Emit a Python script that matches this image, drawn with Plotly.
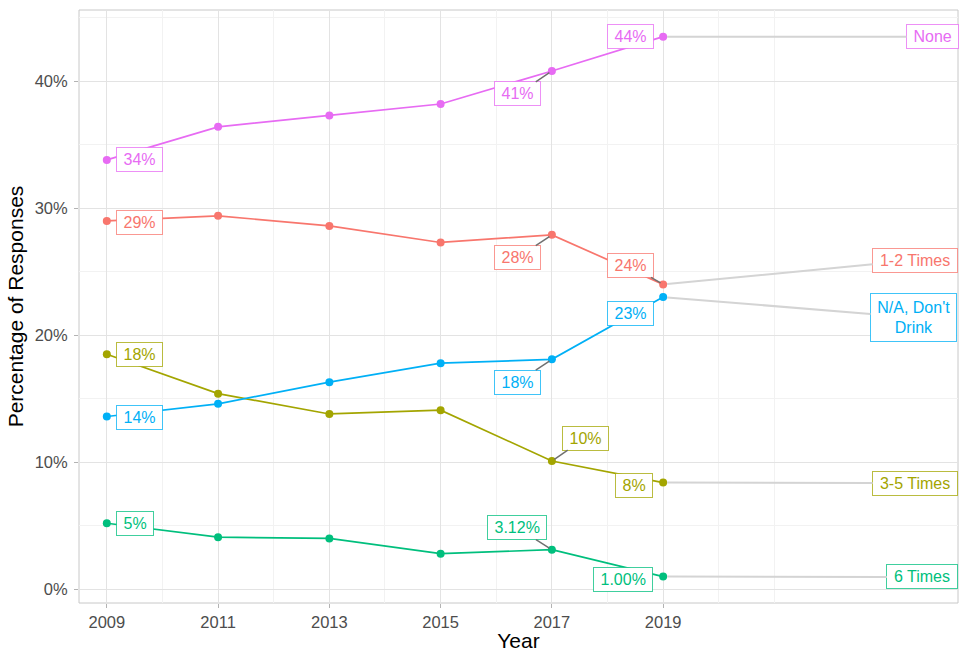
import plotly.graph_objects as go

years = [2009, 2011, 2013, 2015, 2017, 2019]
series_names = ["None", "1-2 Times", "3-5 Times", "N/A, Don't Drink", "6 Times"]
none_vals = [33.8, 36.4, 37.3, 38.2, 40.8, 43.5]
one_two_vals = [29.0, 29.4, 28.6, 27.3, 27.9, 24.0]
three_five_vals = [18.5, 15.4, 13.8, 14.1, 10.1, 8.4]
na_vals = [13.6, 14.6, 16.3, 17.8, 18.1, 23.0]
six_vals = [5.2, 4.1, 4.0, 2.8, 3.12, 1.0]
series_values = [none_vals, one_two_vals, three_five_vals, na_vals, six_vals]
colors = ["#E76BF3", "#F8766D", "#A3A500", "#00B0F6", "#00BF7D"]
border_colors = ["rgba(231,107,243,0.75)", "rgba(248,118,109,0.75)", "rgba(163,165,0,0.75)",
                 "rgba(0,176,246,0.75)", "rgba(0,191,125,0.75)"]

# value labels: (series index, year, text, label x, label y, draw connector)
value_labels = [
    (0, 2009, "34%", 2009.58, 33.8, False),
    (1, 2009, "29%", 2009.58, 28.9, False),
    (2, 2009, "18%", 2009.58, 18.5, False),
    (3, 2009, "14%", 2009.58, 13.5, False),
    (4, 2009, "5%", 2009.51, 5.2, False),
    (0, 2017, "41%", 2016.39, 39.0, True),
    (1, 2017, "28%", 2016.39, 26.1, True),
    (3, 2017, "18%", 2016.39, 16.3, True),
    (2, 2017, "10%", 2017.60, 11.9, True),
    (4, 2017, "3.12%", 2016.37, 4.85, True),
    (0, 2019, "44%", 2018.41, 43.5, False),
    (1, 2019, "24%", 2018.41, 25.5, True),
    (3, 2019, "23%", 2018.41, 21.7, False),
    (2, 2019, "8%", 2018.48, 8.2, False),
    (4, 2019, "1.00%", 2018.28, 0.8, False),
]
# end-of-line series labels
end_label_text = ["None", "1-2 Times", "3-5 Times", "N/A, Don't<br>Drink", "6 Times"]
end_label_x = [2023.84, 2023.53, 2023.53, 2023.50, 2023.66]
end_label_y = [43.5, 25.9, 8.35, 21.4, 0.97]

x_ticks = [2009, 2011, 2013, 2015, 2017, 2019]
x_minor = [2010, 2012, 2014, 2016, 2018, 2020, 2021]
y_ticks = [0, 10, 20, 30, 40]
y_tick_text = ["0%", "10%", "20%", "30%", "40%"]
y_minor = [5, 15, 25, 35, 45]

FONT = "Liberation Sans, Arial, sans-serif"
LABEL_SIZE = 16

# approximate Arial advance widths (em) for sizing the label boxes
CW = {"%": 0.889, ".": 0.278, " ": 0.278, "-": 0.333, "T": 0.611, "i": 0.222, "m": 0.833,
      "e": 0.556, "s": 0.5, "N": 0.722, "o": 0.556, "n": 0.556, "/": 0.278, "A": 0.667,
      ",": 0.278, "D": 0.722, "'": 0.191, "t": 0.278, "r": 0.333, "k": 0.5}


def text_width(txt, size):
    return max(sum(CW.get(c, 0.556) for c in line) for line in txt.split("<br>")) * size


fig = go.Figure()
for name, vals, col in zip(series_names, series_values, colors):
    fig.add_trace(go.Scatter(
        x=years, y=vals, mode="lines+markers", name=name,
        line=dict(color=col, width=1.7),
        marker=dict(color=col, size=8),
        showlegend=False, hoverinfo="skip"))


def label(xp, yp, lx, ly, txt, col, bcol, acol, awidth, standoff):
    nlines = txt.count("<br>") + 1
    return dict(
        x=xp, y=yp, xref="x", yref="y",
        ax=lx, ay=ly, axref="x", ayref="y",
        text=txt, showarrow=True, arrowhead=0,
        arrowwidth=awidth, arrowcolor=acol, standoff=standoff,
        font=dict(family=FONT, size=LABEL_SIZE, color=col),
        width=text_width(txt, LABEL_SIZE) + 9,
        height=19 + (nlines - 1) * 24,
        bgcolor="white", bordercolor=bcol, borderwidth=1, borderpad=2,
        align="center", valign="middle")


annotations = []
for si, yr, txt, lx, ly, conn in value_labels:
    yv = series_values[si][years.index(yr)]
    annotations.append(label(yr, yv, lx, ly, txt, colors[si], border_colors[si],
                             "#707070" if conn else "rgba(0,0,0,0)",
                             1.5 if conn else 0.1, 3))

for si in range(len(series_names)):
    annotations.append(label(years[-1], series_values[si][-1], end_label_x[si], end_label_y[si],
                             end_label_text[si], colors[si], border_colors[si],
                             "#D4D4D4", 2, 4))

fig.update_layout(
    width=959, height=652,
    margin=dict(l=79, r=1, t=10, b=49, autoexpand=False),
    paper_bgcolor="white", plot_bgcolor="white",
    font=dict(family=FONT),
    annotations=annotations,
    xaxis=dict(
        range=[2008.5, 2024.3], tickmode="array", tickvals=x_ticks,
        ticktext=[str(v) for v in x_ticks],
        showgrid=True, gridcolor="#E3E3E3", gridwidth=1,
        minor=dict(tickmode="array", tickvals=x_minor, showgrid=True,
                   gridcolor="#F2F2F2", gridwidth=1, ticks=""),
        ticks="outside", ticklen=4, tickcolor="#B3B3B3",
        tickfont=dict(size=16.5, color="#4D4D4D", family=FONT),
        title=dict(text="Year", font=dict(size=21, color="black", family=FONT), standoff=2),
        automargin=False, zeroline=False, showline=False),
    yaxis=dict(
        range=[-1.08, 45.6], tickmode="array", tickvals=y_ticks, ticktext=y_tick_text,
        showgrid=True, gridcolor="#E3E3E3", gridwidth=1,
        minor=dict(tickmode="array", tickvals=y_minor, showgrid=True,
                   gridcolor="#F2F2F2", gridwidth=1, ticks=""),
        ticks="outside", ticklen=4, tickcolor="#B3B3B3", ticklabelstandoff=3,
        tickfont=dict(size=16.5, color="#4D4D4D", family=FONT),
        title=dict(text="Percentage of Responses", font=dict(size=21, color="black", family=FONT), standoff=5),
        automargin=False, zeroline=False, showline=False),
    shapes=[dict(type="rect", xref="paper", yref="paper", x0=0, y0=0, x1=1, y1=1,
                 line=dict(color="#C8C8C8", width=1), fillcolor="rgba(0,0,0,0)", layer="below")],
)

fig.write_html("out.html", config={"displayModeBar": False},
               post_script="document.body.style.margin='0';")
